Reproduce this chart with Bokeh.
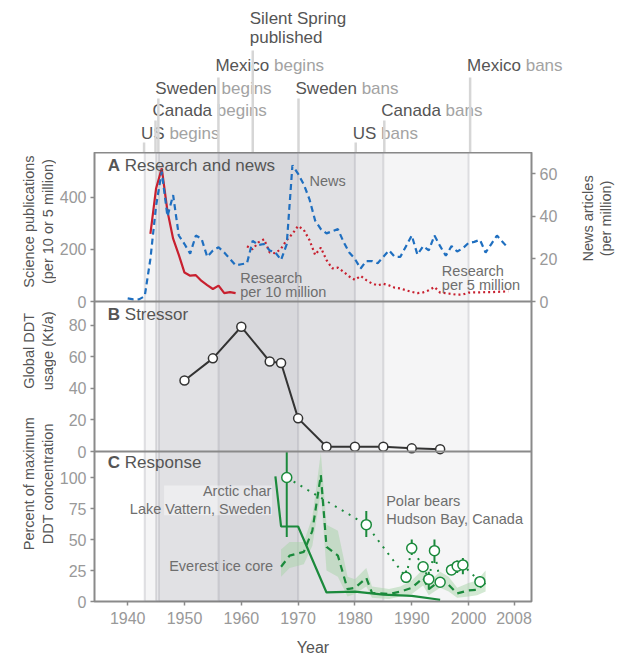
import math
from bokeh.plotting import figure
from bokeh.models import Range1d, LinearAxis, FixedTicker, BoxAnnotation, Span
from bokeh.layouts import column, row
from bokeh.core.properties import value
from bokeh.embed import file_html
from bokeh.resources import INLINE

FONT = "Liberation Sans"
DARK = "#555555"
MID = "#6e6e6e"
LIGHT = "#a3a3a3"
TICK = "#999999"
FRAME = "#8a8a8a"
BLUE = "#1f6fc0"
RED = "#c8202f"
GREEN = "#1b8a3c"

# ---------------- data ----------------
countries = ["US", "Canada", "Sweden", "Mexico"]
begin_years = [1943, 1945, 1945.5, 1956]
ban_years = [1980, 1985, 1970, 2000]
silent_spring_year = 1962

news_years = list(range(1940, 2008))
news_values = [1.5, 1, 1, 2.5, 20, 45, 61, 40, 50, 31,
               27, 22.5, 31, 29.5, 21, 24, 25.5, 23, 20, 17,
               17.5, 18, 28.5, 26.5, 27, 24, 23, 19.5, 27, 64,
               60, 55, 48, 38, 34, 32, 33, 34, 28, 23,
               20, 15.5, 19, 19, 18, 21, 24, 21, 21, 26,
               31, 22, 26, 24, 31, 26, 21.5, 26, 23.5, 25,
               27.5, 28, 29, 23, 27, 31, 28, 25]

research10_years = list(range(1944, 1960))
research10_values = [260, 434, 511, 347, 241, 179, 111, 99, 101, 79, 63, 48, 61, 32, 36, 32]

research5_years = list(range(1961, 2008))
research5_values = [212, 200, 227, 239, 188, 185, 203, 236, 260, 290,
                    275, 236, 179, 207, 159, 127, 130, 114, 96, 83,
                    98, 82, 69, 62, 68, 62, 53, 50, 43, 37,
                    32, 35, 43, 56, 34, 32, 29, 26, 27, 34,
                    35, 35, 36, 36, 37, 38, 39]

usage_years = [1950, 1955, 1960, 1965, 1967, 1970, 1975, 1980, 1985, 1990, 1995]
usage_values = [45, 59, 79, 57, 56, 21, 3, 3, 3, 2, 1.5]

char_years = [1966, 1967, 1970, 1975, 1980, 1985, 1990, 1995]
char_values = [101, 60.5, 60.5, 7.3, 8, 5.5, 4.5, 1.4]

everest_years = [1967, 1968.5, 1971, 1972.5, 1974, 1975, 1977, 1978.7, 1980, 1982, 1983,
                 1986, 1988, 1990, 1992, 1993, 1995, 1996.5, 1998, 2000, 2001.5, 2003]
everest_values = [28, 37, 40, 57, 102, 44, 37, 10, 11, 19, 7,
                  6, 8, 11, 19, 10, 17, 13.5, 6.5, 9, 9.5, 15]
everest_low = [20, 27, 30, 45, 88, 25, 20, 4, 6, 12, 3,
               2, 4, 6, 13, 5, 11, 8, 3, 4, 5, 8]
everest_high = [42, 48, 48, 68, 120, 62, 57, 20, 18, 27, 12,
                10, 12, 17, 26, 16, 24, 20, 11, 15, 17, 25]

polar_years = [1968, 1982, 1989, 1990, 1992, 1993, 1994, 1995, 1997, 1998, 1999, 2002]
polar_values = [100, 62, 19.5, 43, 28, 18, 41, 15.5, 25.5, 28.5, 29.5, 16]
polar_low = [52, 52, 15, 37.5, 24, 9.5, 31, 13, 22, 23, 22, 12]
polar_high = [148, 73, 25, 50, 32, 24, 50, 19, 30, 33, 35, 20.5]

x_ticks = [1940, 1950, 1960, 1970, 1980, 1990, 2000, 2008]
a_ticks = [0, 200, 400]
news_ticks = [0, 20, 40, 60]
b_ticks = [0, 20, 40, 60, 80]
c_ticks = [0, 25, 50, 75, 100]

# ---------------- layout constants ----------------
PAGE_W, PAGE_H = 621, 659
X_START, X_END = 1934.16, 2011.08
FRAME_LEFT, FRAME_W = 93, 440
TOP_H = 152
H_A, H_B, H_C = 149, 150, 150
FH = H_A + H_B + H_C
BOTTOM = PAGE_H - TOP_H - FH
LABW = 56
MAIN_L, MAIN_R = FRAME_LEFT - LABW, 27
MAIN_W = MAIN_L + FRAME_W + MAIN_R
RLABW = PAGE_W - LABW - MAIN_W
PPY = FRAME_W / (X_END - X_START)
A_TOP, NEWS_TOP, B_TOP, C_TOP = 572, 70, 95, 121

AW = {'U': .722, 'S': .667, 'C': .722, 'a': .556, 'n': .556, 'd': .556, 'w': .722,
      'e': .556, 'M': .833, 'x': .5, 'i': .222, 'c': .5, 'o': .556, ' ': .278}


def tw(s, size):
    return sum(AW.get(ch, .556) for ch in s) * size


def bare(width, height, xr, yr, left=0, right=0, bottom=0):
    p = figure(width=width, height=height, x_range=xr, y_range=yr,
               output_backend="svg", toolbar_location=None, tools="",
               x_axis_location=None, y_axis_location=None,
               min_border_left=left, min_border_right=right,
               min_border_top=0, min_border_bottom=bottom)
    p.grid.visible = False
    p.outline_line_color = None
    p.background_fill_color = "white"
    p.border_fill_color = "white"
    return p


def txt(p, x, y, s, size="14.5px", color=MID, align="left", bold=False, xoff=0,
        rng="default", angle=0.0):
    p.text(x=[x], y=[y], text=[s], text_font=value(FONT), text_font_size=size,
           text_color=color, text_align=align, text_baseline="middle", angle=angle,
           text_font_style="bold" if bold else "normal", x_offset=xoff, y_range_name=rng)


def style_axis(ax, ticks, overrides=None, label_standoff=4):
    ax.ticker = FixedTicker(ticks=ticks)
    if overrides:
        ax.major_label_overrides = overrides
    ax.major_label_text_font = FONT
    ax.major_label_text_font_size = "16px"
    ax.major_label_text_color = TICK
    ax.major_label_standoff = label_standoff
    ax.major_tick_out = 4
    ax.major_tick_in = 0
    ax.minor_tick_out = 0
    ax.minor_tick_in = 0
    ax.major_tick_line_color = FRAME
    ax.major_tick_line_width = 1.5
    ax.axis_line_color = None


# ---------------- top event labels ----------------
top = bare(PAGE_W, TOP_H, Range1d(X_START, X_START + (PAGE_W - FRAME_LEFT) / PPY),
           Range1d(TOP_H, 0), left=FRAME_LEFT)
row_y = {"US": 133, "Canada": 110, "Sweden": 88, "Mexico": 65}
line_top = {"US": 142, "Canada": 120, "Sweden": 98, "Mexico": 77}
ev_x, ev_top = [], []
for c, b, e in zip(countries, begin_years, ban_years):
    for yr, verb in ((b, "begins"), (e, "bans")):
        ev_x.append(yr)
        ev_top.append(line_top[c])
        txt(top, yr, row_y[c], c, size="17px", color=DARK, xoff=-3)
        txt(top, yr, row_y[c], verb, size="17px", color=LIGHT, xoff=-3 + tw(c + " ", 17))
ev_x.append(silent_spring_year)
ev_top.append(50)
top.segment(x0=ev_x, y0=ev_top, x1=ev_x, y1=[TOP_H + 3] * len(ev_x),
            line_color="#d6d6d6", line_width=2.5)
txt(top, silent_spring_year, 18, "Silent Spring", size="17px", color=DARK, xoff=-3)
txt(top, silent_spring_year, 37, "published", size="17px", color=DARK, xoff=-3)

# ---------------- main panels (A, B, C in one frame) ----------------
xr = Range1d(X_START, X_END)
main = figure(width=MAIN_W, height=FH + BOTTOM, x_range=xr, y_range=Range1d(0, FH),
              output_backend="svg", toolbar_location=None, tools="",
              x_axis_location="below", y_axis_location="left",
              min_border_left=MAIN_L, min_border_right=MAIN_R,
              min_border_top=0, min_border_bottom=BOTTOM)
main.grid.visible = False
main.outline_line_color = FRAME
main.outline_line_width = 2
main.background_fill_color = "white"
main.border_fill_color = "white"
main.extra_y_ranges = {
    "a": Range1d(-(H_B + H_C) * A_TOP / H_A, A_TOP),
    "news": Range1d(-(H_B + H_C) * NEWS_TOP / H_A, NEWS_TOP),
    "b": Range1d(-H_C * B_TOP / H_B, (FH - H_C) * B_TOP / H_B),
    "c": Range1d(0, FH * C_TOP / H_C),
}

# shaded periods of use and event lines
for b, e in zip(begin_years, ban_years):
    main.add_layout(BoxAnnotation(left=b, right=e, fill_color="#1e1e34", fill_alpha=0.045,
                                  line_color=None, level="underlay"))
for yv in begin_years + ban_years:
    main.add_layout(Span(location=yv, dimension="height", line_color="#9a9aa4",
                         line_alpha=0.3, line_width=2, level="underlay"))
for loc in (H_C, H_C + H_B):
    main.add_layout(Span(location=loc, dimension="width", line_color=FRAME,
                         line_width=2, level="overlay"))

# left axis: ticks of the three panels
tick_pos = ([v * H_C / C_TOP for v in c_ticks] +
            [H_C + v * H_B / B_TOP for v in b_ticks] +
            [H_C + H_B + v * H_A / A_TOP for v in a_ticks])
tick_lab = [str(v) for v in c_ticks + b_ticks + a_ticks]
style_axis(main.yaxis[0], tick_pos, dict(zip(tick_pos, tick_lab)))

axn = LinearAxis(y_range_name="news")
style_axis(axn, news_ticks)
main.add_layout(axn, "right")

style_axis(main.xaxis[0], x_ticks, label_standoff=6)
main.xaxis[0].axis_label = "Year"
main.xaxis[0].axis_label_text_font = FONT
main.xaxis[0].axis_label_text_font_size = "16px"
main.xaxis[0].axis_label_text_color = DARK
main.xaxis[0].axis_label_text_font_style = "normal"
main.xaxis[0].axis_label_standoff = 12

# panel A
main.line(research10_years, research10_values, y_range_name="a", line_color=RED, line_width=2.2)
main.line(research5_years, research5_values, y_range_name="a", line_color=RED, line_width=2.2,
          line_dash="2 3")
main.line(news_years, news_values, y_range_name="news", line_color=BLUE, line_width=2.2,
          line_dash="6 4")
txt(main, 1936.5, 521, "A", size="17px", color=DARK, bold=True, rng="a")
txt(main, 1936.5, 521, "Research and news", size="17px", color=DARK, xoff=17, rng="a")
txt(main, 1972.0, 464, "News", rng="a")
txt(main, 1959.8, 91, "Research", rng="a")
txt(main, 1959.8, 38, "per 10 million", rng="a")
txt(main, 1995.3, 117, "Research", rng="a")
txt(main, 1995.3, 64, "per 5 million", rng="a")

# panel B
main.line(usage_years, usage_values, y_range_name="b", line_color="#333333", line_width=2)
main.scatter(usage_years, usage_values, y_range_name="b", size=9, fill_color="white",
             line_color="#333333", line_width=1.5)
txt(main, 1936.5, 86.8, "B", size="17px", color=DARK, bold=True, rng="b")
txt(main, 1936.5, 86.8, "Stressor", size="17px", color=DARK, xoff=17, rng="b")

# panel C
main.add_layout(BoxAnnotation(left=1946.4, right=1965.4, bottom=69.5, top=93.5,
                              y_range_name="c", fill_color="white", fill_alpha=0.4,
                              line_color=None, level="underlay"))
main.varea(x=everest_years, y1=everest_low, y2=everest_high, y_range_name="c",
           fill_color="#a8d4a8", fill_alpha=0.5)
main.line(everest_years, everest_values, y_range_name="c", line_color=GREEN, line_width=2.2,
          line_dash="7 5")
main.line(char_years, char_values, y_range_name="c", line_color=GREEN, line_width=2.2)
main.line(polar_years, polar_values, y_range_name="c", line_color=GREEN, line_width=2,
          line_dash="2 6")
main.segment(x0=polar_years, y0=polar_low, x1=polar_years,
             y1=[min(h, C_TOP) for h in polar_high], y_range_name="c",
             line_color=GREEN, line_width=2)
main.scatter(polar_years, polar_values, y_range_name="c", size=10, fill_color="white",
             line_color=GREEN, line_width=1.5)
txt(main, 1936.5, 111.8, "C", size="17px", color=DARK, bold=True, rng="c")
txt(main, 1936.5, 111.8, "Response", size="17px", color=DARK, xoff=17, rng="c")
txt(main, 1965.3, 88.9, "Arctic char", align="right", rng="c")
txt(main, 1965.3, 74.7, "Lake Vattern, Sweden", align="right", rng="c")
txt(main, 1965.6, 28.3, "Everest ice core", align="right", rng="c")
txt(main, 1985.5, 80.8, "Polar bears", rng="c")
txt(main, 1985.5, 66.6, "Hudson Bay, Canada", rng="c")

# ---------------- axis titles (rotated) ----------------
ylab = bare(LABW, FH + BOTTOM, Range1d(0, LABW), Range1d(PAGE_H, TOP_H))
for y, l1, l2 in ((230, "Science publications", "(per 10 or 5 million)"),
                  (376, "Global DDT", "usage (Kt/a)"),
                  (526, "Percent of maximum", "DDT concentration")):
    txt(ylab, 28, y, l1, size="14.5px", color=DARK, align="center", angle=math.pi / 2)
    txt(ylab, 47, y, l2, size="14.5px", color=DARK, align="center", angle=math.pi / 2)

rlab = bare(RLABW, FH + BOTTOM, Range1d(PAGE_W - RLABW, PAGE_W), Range1d(PAGE_H, TOP_H))
txt(rlab, 587, 226.5, "News articles", size="14.5px", color=DARK, align="center", angle=math.pi / 2)
txt(rlab, 605, 226.5, "(per million)", size="14.5px", color=DARK, align="center", angle=math.pi / 2)

layout = column(top, row(ylab, main, rlab))
open("out.html", "w").write(file_html(layout, INLINE))
